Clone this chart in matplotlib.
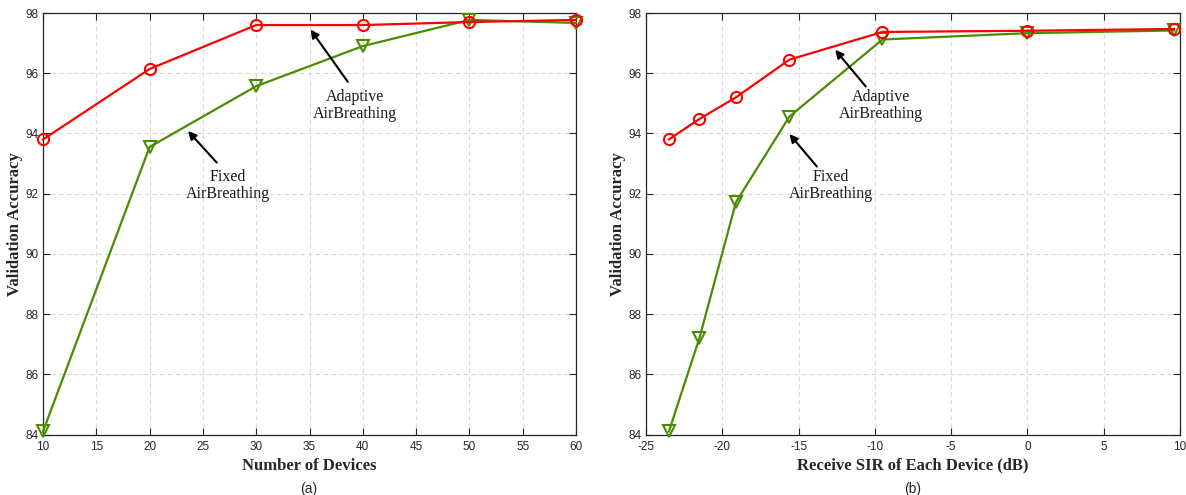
import matplotlib
matplotlib.use('Agg')
from matplotlib import pyplot as plt

# panel (a): accuracy vs number of devices
devices = [10, 20, 30, 40, 50, 60]
adaptive_a = [93.8, 96.14, 97.6, 97.6, 97.7, 97.77]
fixed_a = [84.1, 93.55, 95.57, 96.9, 97.77, 97.67]

# panel (b): accuracy vs receive SIR
sir_db = [-23.5, -21.5, -19.1, -15.6, -9.5, 0.0, 9.6]
adaptive_b = [93.8, 94.48, 95.2, 96.45, 97.37, 97.41, 97.47]
fixed_b = [84.1, 87.2, 91.72, 94.56, 97.12, 97.33, 97.42]

y_ticks = [84, 86, 88, 90, 92, 94, 96, 98]
red = '#ff0000'
green = '#4a8c00'
serif = ['Liberation Serif', 'DejaVu Serif']
sans = ['Liberation Sans', 'DejaVu Sans']
plt.rcParams['axes.unicode_minus'] = False

W, H = 1186, 495
fig = plt.figure(figsize=(W / 100, H / 100), dpi=100)
ax_a = fig.add_axes([43 / W, (H - 434.5) / H, 533 / W, 421.5 / H])
ax_b = fig.add_axes([646 / W, (H - 434.5) / H, 534 / W, 421.5 / H])


def style_axes(ax, xlabel, xticks):
    ax.set_ylim(84, 98)
    ax.set_yticks(y_ticks)
    ax.set_xticks(xticks)
    ax.set_xlim(xticks[0], xticks[-1])
    ax.grid(True, linestyle=(0, (4, 3)), color='#d9d9d9', linewidth=0.8)
    ax.set_axisbelow(True)
    ax.tick_params(direction='in', top=True, right=True, length=5,
                   width=0.8, labelsize=8.5, colors='#262626', pad=3)
    ax.tick_params(axis='x', pad=5)
    for lab in ax.get_xticklabels() + ax.get_yticklabels():
        lab.set_fontfamily(sans)
    for sp in ax.spines.values():
        sp.set_color('#262626')
        sp.set_linewidth(0.9)
    ax.set_xlabel(xlabel, fontsize=12, fontweight='bold', family=serif,
                  color='#262626', labelpad=3)
    ax.set_ylabel('Validation Accuracy', fontsize=12, fontweight='bold',
                  family=serif, color='#262626', labelpad=2)


def draw(ax, x, adaptive, fixed):
    ax.plot(x, fixed, color=green, linewidth=1.6, marker='v', markersize=8,
            markerfacecolor='none', markeredgewidth=1.5, clip_on=False, zorder=3)
    ax.plot(x, adaptive, color=red, linewidth=1.6, marker='o', markersize=8,
            markerfacecolor='none', markeredgewidth=1.5, clip_on=False, zorder=4)


def label(ax, text, head, tail, pos):
    ax.annotate('', xy=head, xytext=tail,
                arrowprops=dict(arrowstyle='-|>', color='black', lw=1.5,
                                mutation_scale=12, shrinkA=0, shrinkB=0))
    ax.text(pos[0], pos[1], text, ha='center', va='center', fontsize=11.5,
            family=serif, color='#1a1a1a', linespacing=1.1)


draw(ax_a, devices, adaptive_a, fixed_a)
style_axes(ax_a, 'Number of Devices', list(range(10, 61, 5)))
label(ax_a, 'Adaptive\nAirBreathing', (35.1, 97.45), (38.6, 95.71), (39.3, 94.92))
label(ax_a, 'Fixed\nAirBreathing', (23.6, 94.08), (26.3, 93.03), (27.3, 92.26))

draw(ax_b, sir_db, adaptive_b, fixed_b)
style_axes(ax_b, 'Receive SIR of Each Device (dB)', list(range(-25, 11, 5)))
label(ax_b, 'Adaptive\nAirBreathing', (-12.6, 96.78), (-10.6, 95.56), (-9.6, 94.92))
label(ax_b, 'Fixed\nAirBreathing', (-15.6, 93.98), (-13.8, 92.9), (-12.9, 92.26))

fig.text((43 + 266) / W, 1 - 489 / H, '(a)', ha='center', va='center',
         fontsize=10, family=sans, color='#262626')
fig.text((646 + 267) / W, 1 - 489 / H, '(b)', ha='center', va='center',
         fontsize=10, family=sans, color='#262626')

fig.savefig('out.png', dpi=100)
